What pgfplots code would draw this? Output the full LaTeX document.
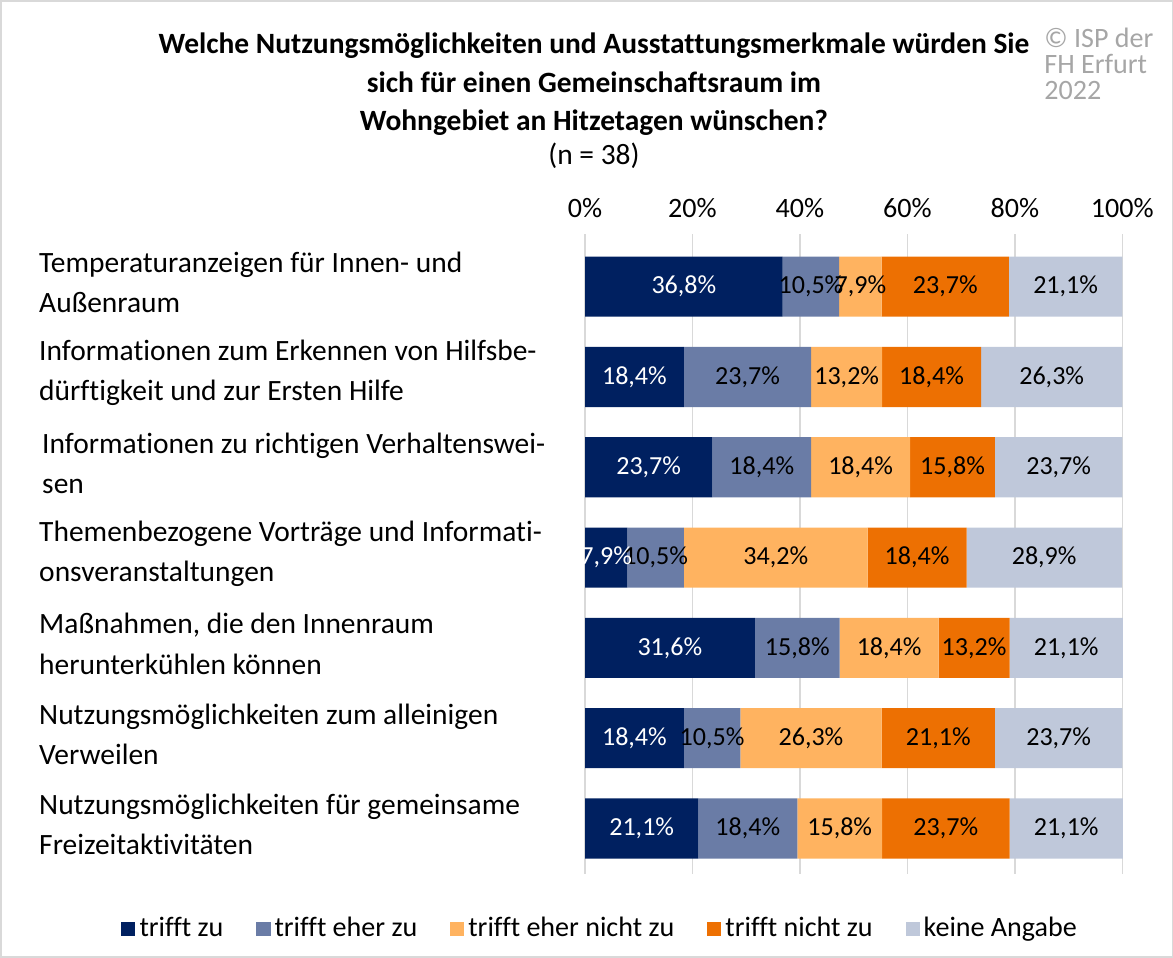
\documentclass[border=0pt]{standalone}
\usepackage{pgfplots}
\pgfplotsset{compat=1.18}
\usepackage{fontspec}
\setmainfont{Carlito}[Ligatures=NoCommon]

\definecolor{cNavy}{HTML}{002060}
\definecolor{cSlate}{HTML}{6A7CA6}
\definecolor{cPeach}{HTML}{FFB360}
\definecolor{cOrange}{HTML}{ED7002}
\definecolor{cPale}{HTML}{BFC8DA}
\definecolor{cGrid}{HTML}{D9D9D9}
\definecolor{cCopy}{HTML}{A6A6A6}

\pgfplotsset{
  sq legend/.style={legend image code/.code={\fill[##1] (0pt,-3.5pt) rectangle (7pt,3.5pt);}},
}

\begin{document}
\begin{tikzpicture}
  % chart area frame (1px = 0.5pt)
  \draw[cGrid, line width=0.75pt] (1pt,-1pt) rectangle (585.5pt,-478pt);

  % title
  \begin{scope}[every node/.style={anchor=base, inner sep=0pt}]
    \node[font=\bfseries\fontsize{14.7}{16}\selectfont] at (297pt,-27.5pt)
      {Welche Nutzungsmöglichkeiten und Ausstattungsmerkmale würden Sie};
    \node[font=\bfseries\fontsize{14.7}{16}\selectfont] at (297pt,-47pt)
      {sich für einen Gemeinschaftsraum im};
    \node[font=\bfseries\fontsize{14.7}{16}\selectfont] at (297pt,-65.5pt)
      {Wohngebiet an Hitzetagen wünschen?};
    \node[font=\fontsize{14.7}{16}\selectfont] at (297pt,-82.5pt) {(n = 38)};
  \end{scope}

  % copyright
  \begin{scope}[every node/.style={anchor=base west, inner sep=0pt, text=cCopy,
      font=\fontsize{14}{13}\selectfont}]
    \node at (521.5pt,-24.5pt) {© ISP der};
    \node at (521.5pt,-37.5pt) {FH Erfurt};
    \node at (521.5pt,-50.5pt) {2022};
  \end{scope}

  \begin{axis}[
    at={(292.5pt,-117.5pt)}, anchor=north west,
    width=268.5pt, height=319pt, scale only axis,
    xbar stacked, bar width=30pt,
    xmin=0, xmax=100.15,
    ymin=-0.58, ymax=6.5, y dir=reverse,
    ytick={0,...,6},
    yticklabels={
      {Temperaturanzeigen für Innen- und\\Außenraum},
      {Informationen zum Erkennen von Hilfsbe-\\dürftigkeit und zur Ersten Hilfe},
      {\hspace*{1.5pt}Informationen zu richtigen Verhaltenswei-\\\hspace*{1.5pt}sen},
      {Themenbezogene Vorträge und Informati-\\onsveranstaltungen},
      {Maßnahmen, die den Innenraum\\herunterkühlen können},
      {Nutzungsmöglichkeiten zum alleinigen\\Verweilen},
      {Nutzungsmöglichkeiten für gemeinsame\\Freizeitaktivitäten}},
    yticklabel style={anchor=west, align=left, inner sep=0pt, xshift=-272.5pt,
      yshift=2pt, font=\fontsize{14.7}{20}\selectfont},
    xtick={0,20,...,100},
    xticklabels={0\%,20\%,40\%,60\%,80\%,100\%},
    xticklabel pos=right,
    xticklabel style={font=\fontsize{14}{16}\selectfont, yshift=4.5pt},
    xmajorgrids, grid style={cGrid, line width=0.75pt},
    axis line style={draw=none}, tick style={draw=none},
    visualization depends on=rawx \as \rawx,
    nodes near coords={\pgfmathprintnumber[assume math mode=true,fixed,fixed zerofill,precision=1,use comma]{\rawx}\%},
    nodes near coords align={anchor=center},
    every node near coord/.append style={anchor=center, inner sep=0pt,
      font=\fontsize{13}{16}\selectfont},
    legend style={at={(0.030,-0.086)}, anchor=center, legend columns=5,
      draw=none, font=\fontsize{14}{16}\selectfont,
      /tikz/every even column/.append style={column sep=14.5pt}},
    legend cell align=left,
  ]
    \addplot[fill=cNavy, draw=none, sq legend,
      every node near coord/.append style={text=white}] coordinates {
      (36.8,0) (18.4,1) (23.7,2) (7.9,3) (31.6,4) (18.4,5) (21.1,6)};
    \addplot[fill=cSlate, draw=none, sq legend] coordinates {
      (10.5,0) (23.7,1) (18.4,2) (10.5,3) (15.8,4) (10.5,5) (18.4,6)};
    \addplot[fill=cPeach, draw=none, sq legend] coordinates {
      (7.9,0) (13.2,1) (18.4,2) (34.2,3) (18.4,4) (26.3,5) (15.8,6)};
    \addplot[fill=cOrange, draw=none, sq legend] coordinates {
      (23.7,0) (18.4,1) (15.8,2) (18.4,3) (13.2,4) (21.1,5) (23.7,6)};
    \addplot[fill=cPale, draw=none, sq legend] coordinates {
      (21.1,0) (26.3,1) (23.7,2) (28.9,3) (21.1,4) (23.7,5) (21.1,6)};
    \legend{trifft zu, trifft eher zu, trifft eher nicht zu, trifft nicht zu, keine Angabe}
  \end{axis}
\end{tikzpicture}
\end{document}
